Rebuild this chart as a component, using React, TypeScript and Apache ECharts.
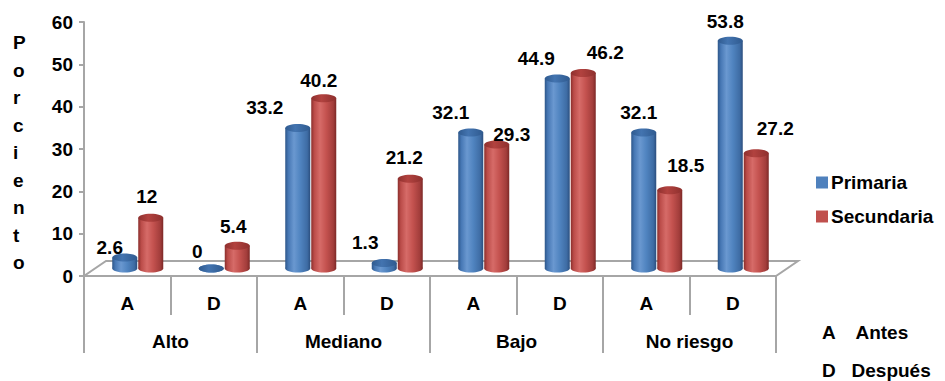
import React, { useEffect, useRef } from "react";
import * as echarts from "echarts";

const groups = ["Alto", "Mediano", "Bajo", "No riesgo"];
const categories = ["A", "D", "A", "D", "A", "D", "A", "D"];
const primaria = [2.6, 0, 33.2, 1.3, 32.1, 44.9, 32.1, 53.8];
const secundaria = [12, 5.4, 40.2, 21.2, 29.3, 46.2, 18.5, 27.2];
const yMin = 0;
const yMax = 60;
const yStep = 10;
const axisTitle = "Porciento";
const legendNames = ["Primaria", "Secundaria"];
const keyNotes = ["A    Antes", "D   Después"];

// label nudges (style only): [dx, dy] from top of each cylinder
const primariaLabelNudge = [[-15, -10], [-14, -17], [-33, -20], [-19, -20], [-20, -20], [-21, -20], [-5, -20], [-5, -19]];
const secundariaLabelNudge = [[-4, -21], [-4, -19], [-5, -18], [-6, -21], [15, -10], [22, -20], [16, -25], [19, -25]];

const FONT = "Liberation Sans, Arial, Helvetica, sans-serif";
const FS = 19;
const GRAY = "#A6A6A6";
const DEPTH_X = 22;
const DEPTH_Y = 15;
const BAR_W = 25;

const BLUE = "#4F81BD";
const RED = "#C0504D";

function bodyGrad(kind: "blue" | "red") {
  const s =
    kind === "blue"
      ? ["#2D5689", "#4677B4", "#6A98D0", "#5084C0", "#3E6CA4", "#2B4E7E"]
      : ["#8A2E2C", "#BB4C49", "#D66B68", "#C4524F", "#A23D3B", "#7C2826"];
  return new echarts.graphic.LinearGradient(0, 0, 1, 0, [
    { offset: 0, color: s[0] },
    { offset: 0.12, color: s[1] },
    { offset: 0.35, color: s[2] },
    { offset: 0.6, color: s[3] },
    { offset: 0.88, color: s[4] },
    { offset: 1, color: s[5] },
  ]);
}

function topGrad(kind: "blue" | "red") {
  const s = kind === "blue" ? ["#2F5A8F", "#4374B0", "#2F5A8F"] : ["#8E302E", "#B2423F", "#8E302E"];
  return new echarts.graphic.LinearGradient(0, 0, 1, 0, [
    { offset: 0, color: s[0] },
    { offset: 0.4, color: s[1] },
    { offset: 1, color: s[2] },
  ]);
}

function makeRender(kind: "blue" | "red", values: number[], nudges: number[][]) {
  return (params: any, api: any) => {
    const idx = api.value(0);
    const v = api.value(1);
    const base = api.coord([idx, 0]);
    const top = api.coord([idx, v]);
    const c = base[0] + DEPTH_X / 2 + (kind === "blue" ? -13.5 : 12.5);
    const by = base[1] - DEPTH_Y / 2;
    const ty = top[1] - DEPTH_Y / 2;
    const rx = BAR_W / 2;
    const ry = 4;
    const nd = nudges[params.dataIndex] || [0, -20];
    return {
      type: "group",
      children: [
        { type: "ellipse", shape: { cx: c, cy: by, rx, ry }, style: { fill: bodyGrad(kind) } },
        { type: "rect", shape: { x: c - rx, y: ty, width: BAR_W, height: Math.max(0, by - ty) }, style: { fill: bodyGrad(kind) } },
        { type: "ellipse", shape: { cx: c, cy: ty, rx, ry }, style: { fill: topGrad(kind) } },
        {
          type: "text",
          style: {
            text: String(values[params.dataIndex]),
            x: c + nd[0],
            y: ty + nd[1],
            align: "center",
            verticalAlign: "middle",
            fontFamily: FONT,
            fontWeight: "bold",
            fontSize: FS,
            fill: "#000",
          },
        },
      ],
    };
  };
}

export default function App() {
  const ref = useRef<HTMLDivElement>(null);
  useEffect(() => {
    if (!ref.current) return;
    const chart = echarts.init(ref.current, undefined, { renderer: "svg" });
    const option: any = {
      animation: false,
      backgroundColor: "#ffffff",
      grid: { left: 84, right: 169, top: 22, bottom: 105, containLabel: false },
      legend: {
        orient: "vertical",
        left: 811,
        top: 168,
        itemWidth: 12,
        itemHeight: 12,
        itemGap: 15,
        icon: "rect",
        data: [
          { name: legendNames[0], itemStyle: { color: BLUE } },
          { name: legendNames[1], itemStyle: { color: RED } },
        ],
        textStyle: { fontFamily: FONT, fontWeight: "bold", fontSize: 19, color: "#000", padding: [0, 0, 0, -2] },
      },
      xAxis: [
        {
          type: "category",
          data: categories,
          position: "bottom",
          axisLine: { show: false },
          axisTick: { show: true, interval: 0, length: 39, lineStyle: { color: GRAY, width: 2 } },
          axisLabel: { interval: 0, margin: 18, fontFamily: FONT, fontWeight: "bold", fontSize: FS, color: "#000" },
          splitLine: { show: false },
        },
        {
          type: "category",
          data: groups,
          position: "bottom",
          axisLine: { show: false },
          axisTick: { show: true, interval: 0, length: 77, lineStyle: { color: GRAY, width: 2 } },
          axisLabel: { interval: 0, margin: 56, fontFamily: FONT, fontWeight: "bold", fontSize: FS, color: "#000" },
          splitLine: { show: false },
        },
      ],
      yAxis: {
        type: "value",
        min: yMin,
        max: yMax,
        interval: yStep,
        axisLine: { show: true, lineStyle: { color: GRAY, width: 2 } },
        axisTick: { show: true, length: 5, lineStyle: { color: GRAY, width: 2 } },
        axisLabel: { margin: 11, fontFamily: FONT, fontWeight: "bold", fontSize: FS, color: "#000" },
        splitLine: { show: false },
      },
      graphic: [
        {
          type: "text",
          left: 13,
          top: 29,
          style: {
            text: axisTitle.split("").join("\n"),
            lineHeight: 27.5,
            fontFamily: FONT,
            fontWeight: "bold",
            fontSize: FS,
            fill: "#000",
            align: "center",
          },
        },
        {
          type: "text",
          left: 822,
          top: 323,
          style: { text: keyNotes[0], fontFamily: FONT, fontWeight: "bold", fontSize: FS, fill: "#000" },
        },
        {
          type: "text",
          left: 822,
          top: 361,
          style: { text: keyNotes[1], fontFamily: FONT, fontWeight: "bold", fontSize: FS, fill: "#000" },
        },
      ],
      series: [
        {
          name: "floor",
          type: "custom",
          silent: true,
          z: 1,
          data: [[0, 0]],
          renderItem: (params: any) => {
            const cs = params.coordSys;
            const x0 = cs.x;
            const x1 = cs.x + cs.width;
            const yb = cs.y + cs.height;
            return {
              type: "polygon",
              shape: {
                points: [
                  [x0, yb],
                  [x1, yb],
                  [x1 + DEPTH_X, yb - DEPTH_Y],
                  [x0 + DEPTH_X, yb - DEPTH_Y],
                ],
              },
              style: { fill: "#ffffff", stroke: GRAY, lineWidth: 2 },
            };
          },
        },
        {
          name: legendNames[0],
          type: "custom",
          z: 3,
          itemStyle: { color: BLUE },
          data: primaria.map((v, i) => [i, v]),
          encode: { x: 0, y: 1 },
          renderItem: makeRender("blue", primaria, primariaLabelNudge),
        },
        {
          name: legendNames[1],
          type: "custom",
          z: 4,
          itemStyle: { color: RED },
          data: secundaria.map((v, i) => [i, v]),
          encode: { x: 0, y: 1 },
          renderItem: makeRender("red", secundaria, secundariaLabelNudge),
        },
      ],
    };
    chart.setOption(option);
    return () => chart.dispose();
  }, []);
  return <div ref={ref} style={{ position: "fixed", left: 0, top: 0, width: 945, height: 381 }} />;
}
